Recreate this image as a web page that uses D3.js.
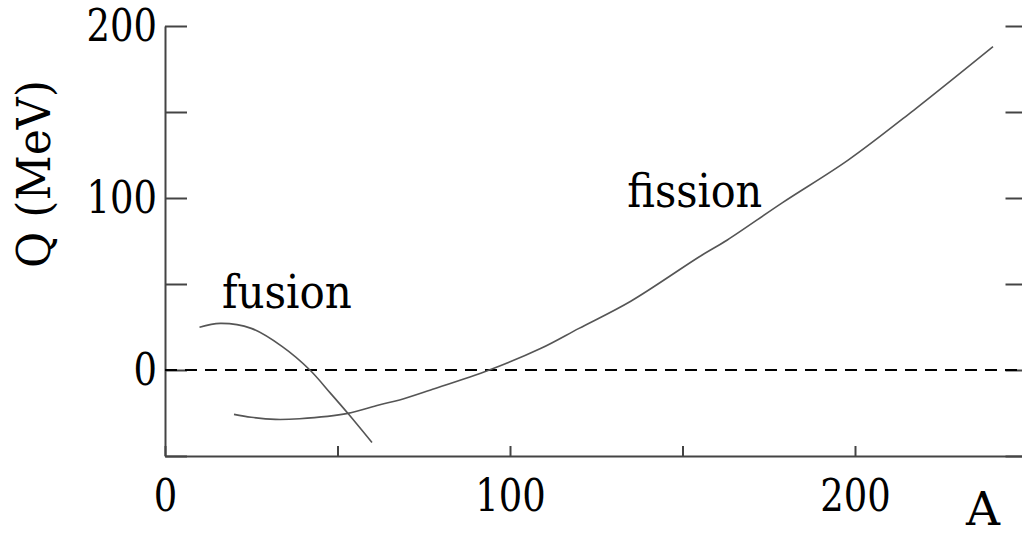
<!DOCTYPE html>
<html>
<head>
<meta charset="utf-8">
<script src="https://cdn.jsdelivr.net/npm/d3@7"></script>
<style>
  body { margin: 0; background: #fff; }
  svg { display: block; }
  .tick line, .domain { stroke: #444; stroke-width: 2; }
</style>
</head>
<body>
<svg></svg>
<script>
// Q value vs mass number A
const fusionA = [10, 16, 25, 34, 42, 48, 53, 60];
const fusionQ = [24.8, 27.1, 24.2, 13.6, 0, -13.6, -25.2, -42.2];
const fissionA = [20, 25, 32, 39, 53, 62, 68, 77, 94, 109, 120, 135, 155, 163, 179, 198, 217, 240];
const fissionQ = [-25.8, -27.5, -28.7, -28.3, -25.2, -20.3, -17.4, -11.6, 0, 12.6, 24.2, 40, 66, 75.6, 97.3, 122, 151, 188];
const xTicks = [0, 50, 100, 150, 200, 250];
const yTicks = [-50, 0, 50, 100, 150, 200];

// only a few serif faces load here; squeeze DejaVu Serif to a Times-like width
const serif = 'DejaVu Serif, serif';
const width = 1022, height = 536;
const svg = d3.select('svg').attr('width', width).attr('height', height);

const x = d3.scaleLinear().domain([0, 250]).range([165, 1027.5]);
const y = d3.scaleLinear().domain([-50, 200]).range([456, 26]);

const labelEvery100 = d => d % 100 === 0 ? d : '';

// bottom axis, ticks pointing up into the plot
const xAxis = svg.append('g')
  .attr('transform', `translate(0, ${y(-50)})`)
  .call(d3.axisBottom(x).tickValues(xTicks).tickFormat(labelEvery100)
    .tickSize(-10).tickSizeOuter(0).tickPadding(23));

// left axis, ticks pointing right
const yAxis = svg.append('g')
  .attr('transform', `translate(${x(0)}, 0)`)
  .call(d3.axisLeft(y).tickValues(yTicks).tickFormat(labelEvery100)
    .tickSize(-22).tickSizeOuter(0).tickPadding(8));

// right axis (spine falls just outside the picture)
svg.append('g')
  .attr('transform', `translate(${x(250)}, 0)`)
  .call(d3.axisRight(y).tickValues(yTicks).tickFormat('')
    .tickSize(-22).tickSizeOuter(0));

svg.selectAll('.domain').attr('fill', 'none');
svg.selectAll('.tick text')
  .attr('fill', '#000')
  .attr('font-family', serif)
  .attr('font-size', 45)
  .filter(function () { return this.textContent.length > 0; })
  .attr('textLength', function () { return this.textContent.length * 23.5; })
  .attr('lengthAdjust', 'spacingAndGlyphs');

// zero line
svg.append('line')
  .attr('x1', x(0)).attr('x2', x(250))
  .attr('y1', y(0)).attr('y2', y(0))
  .attr('stroke', '#000').attr('stroke-width', 2)
  .attr('stroke-dasharray', '12,8');

const line = d3.line()
  .x(d => x(d[0]))
  .y(d => y(d[1]))
  .curve(d3.curveCatmullRom.alpha(0.5));

svg.append('path')
  .datum(d3.zip(fusionA, fusionQ))
  .attr('d', line)
  .attr('fill', 'none').attr('stroke', '#555').attr('stroke-width', 1.6);

svg.append('path')
  .datum(d3.zip(fissionA, fissionQ))
  .attr('d', line)
  .attr('fill', 'none').attr('stroke', '#555').attr('stroke-width', 1.6);

const label = (txt, size, len) => svg.append('text').text(txt)
  .attr('fill', '#000')
  .attr('font-family', serif)
  .attr('font-size', size)
  .attr('textLength', len)
  .attr('lengthAdjust', 'spacingAndGlyphs');

// curve labels
label('fusion', 46, 130).attr('x', x(16.5)).attr('y', y(36));
label('fission', 46, 135).attr('x', x(134)).attr('y', y(94.8));

// axis titles
label('A', 47, 34).attr('x', 966).attr('y', 525);
label('Q (MeV)', 47, 188)
  .attr('transform', 'translate(50, 174) rotate(-90)')
  .attr('x', -94);
</script>
</body>
</html>
